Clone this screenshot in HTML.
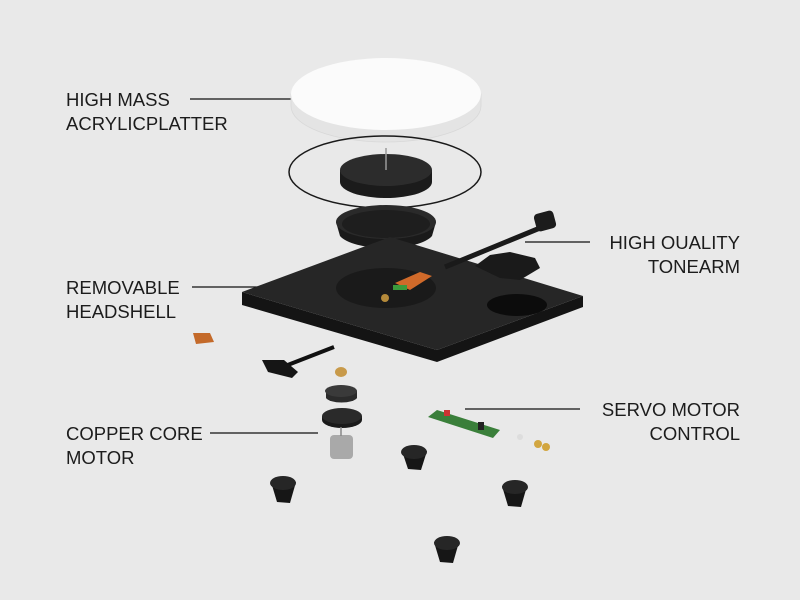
<!DOCTYPE html><html><head><style>
body{margin:0;background:#e9e9e9;}
svg{display:block}
text{font-family:"Liberation Sans",sans-serif;font-size:18.5px;fill:#1c1c1c;}
</style></head><body>
<svg width="800" height="600" viewBox="0 0 800 600">
<rect width="800" height="600" fill="#e9e9e9"/>
<text x="66" y="106">HIGH MASS</text>
<text x="66" y="130">ACRYLICPLATTER</text>
<line x1="190" y1="99" x2="314" y2="99" stroke="#111" stroke-width="1.2"/>
<text x="740" y="249" text-anchor="end">HIGH OUALITY</text>
<text x="740" y="273" text-anchor="end">TONEARM</text>
<line x1="525" y1="242" x2="590" y2="242" stroke="#111" stroke-width="1.2"/>
<text x="66" y="294">REMOVABLE</text>
<text x="66" y="318">HEADSHELL</text>
<line x1="192" y1="287" x2="396" y2="287" stroke="#111" stroke-width="1.2"/>
<text x="740" y="416" text-anchor="end">SERVO MOTOR</text>
<text x="740" y="440" text-anchor="end">CONTROL</text>
<line x1="465" y1="409" x2="580" y2="409" stroke="#111" stroke-width="1.2"/>
<text x="66" y="440">COPPER CORE</text>
<text x="66" y="464">MOTOR</text>
<line x1="210" y1="433" x2="318" y2="433" stroke="#111" stroke-width="1.2"/>

<path d="M291 94 L291 106 A95 36 0 0 0 481 106 L481 94 Z" fill="#e4e4e4" stroke="#d8d8d8" stroke-width="0.8"/>
<ellipse cx="386" cy="94" rx="95" ry="36" fill="#fbfbfb"/>
<ellipse cx="385" cy="172" rx="96" ry="36" fill="none" stroke="#1a1a1a" stroke-width="1.5"/>
<path d="M340 170 L340 182 A46 16 0 0 0 432 182 L432 170 Z" fill="#1b1b1b"/>
<ellipse cx="386" cy="170" rx="46" ry="16" fill="#2c2c2c"/>
<line x1="386" y1="148" x2="386" y2="170" stroke="#999" stroke-width="1.5"/>
<path d="M336 222 L340 236 A48 17 0 0 0 432 236 L436 222 Z" fill="#1a1a1a"/>
<ellipse cx="386" cy="222" rx="50" ry="17" fill="#2a2a2a"/>
<ellipse cx="386" cy="224" rx="44" ry="14" fill="#1e1e1e"/>
<path d="M242 292 L242 305 L437 362 L583 307 L583 296 L437 350 Z" fill="#141414"/>
<path d="M242 292 L390 237 L583 296 L437 350 Z" fill="#262626"/>
<ellipse cx="386" cy="288" rx="50" ry="20" fill="#1a1a1a"/>
<ellipse cx="517" cy="305" rx="30" ry="11" fill="#0c0c0c"/>
<path d="M395 283 L420 272 L432 276 L410 290 Z" fill="#d06a2a"/>
<rect x="393" y="285" width="14" height="5" fill="#3b9a3b"/>
<circle cx="385" cy="298" r="4" fill="#b58a3a"/>
<line x1="445" y1="267" x2="540" y2="228" stroke="#1a1a1a" stroke-width="5"/>
<path d="M475 266 L490 255 L510 252 L535 258 L540 268 L520 280 L500 278 Z" fill="#1a1a1a"/>
<rect x="535" y="212" width="20" height="18" rx="4" fill="#1c1c1c" transform="rotate(-15 545 221)"/>
<line x1="280" y1="368" x2="334" y2="347" stroke="#111" stroke-width="4"/>
<path d="M262 360 L284 360 L298 372 L292 378 L268 372 Z" fill="#151515"/>
<path d="M193 333 L210 333 L214 342 L196 344 Z" fill="#c46a2a"/>
<ellipse cx="341" cy="372" rx="6" ry="5" fill="#c89a4a"/>
<path d="M326 391 L326 398 A16 6 0 0 0 357 398 L357 391 Z" fill="#2b2b2b"/>
<ellipse cx="341" cy="391" rx="16" ry="6" fill="#3a3a3a"/>
<path d="M322 416 L322 420 A20 8 0 0 0 362 420 L362 416 Z" fill="#1a1a1a"/>
<ellipse cx="342" cy="416" rx="20" ry="8" fill="#2a2a2a"/>
<rect x="330" y="435" width="23" height="24" rx="4" fill="#a9a9a9"/>
<line x1="341" y1="427" x2="341" y2="436" stroke="#888" stroke-width="1.5"/>
<path d="M428 417 L437 410 L500 430 L493 438 Z" fill="#3a7f3a"/>
<rect x="444" y="410" width="6" height="6" fill="#c33"/>
<rect x="478" y="422" width="6" height="8" fill="#222"/>
<circle cx="520" cy="437" r="3" fill="#ddd"/>
<circle cx="538" cy="444" r="4" fill="#d2a640"/><circle cx="546" cy="447" r="4" fill="#d2a640"/>
<g fill="#161616">
<path d="M271 482 L277 502 L290 503 L296 482 Z"/><ellipse cx="283" cy="483" rx="13" ry="7" fill="#262626"/>
<path d="M402 451 L408 469 L421 470 L427 451 Z"/><ellipse cx="414" cy="452" rx="13" ry="7" fill="#262626"/>
<path d="M502 486 L508 506 L521 507 L527 486 Z"/><ellipse cx="515" cy="487" rx="13" ry="7" fill="#262626"/>
<path d="M434 542 L440 562 L453 563 L459 542 Z"/><ellipse cx="447" cy="543" rx="13" ry="7" fill="#262626"/>
</g>
</svg>
</body></html>
